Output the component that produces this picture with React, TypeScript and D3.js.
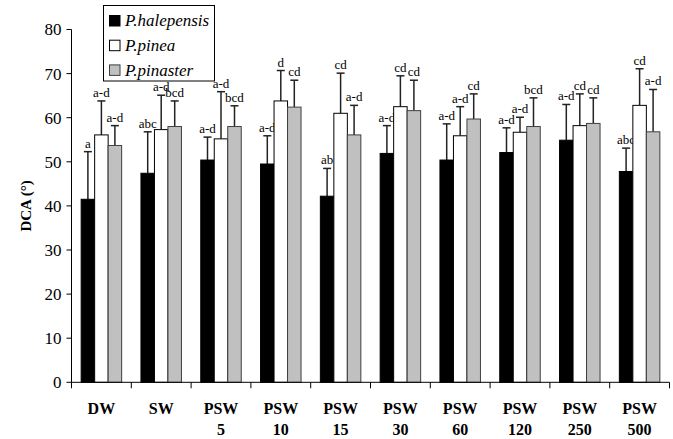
import React from "react";
import * as d3 from "d3";

const categories = ["DW", "SW", "PSW|5", "PSW|10", "PSW|15", "PSW|30", "PSW|60", "PSW|120", "PSW|250", "PSW|500"];
const seriesNames = ["P.halepensis", "P.pinea", "P.pinaster"];
const halepensis = [41.5, 47.4, 50.4, 49.5, 42.2, 51.9, 50.4, 52.1, 54.9, 47.8];
const halepensisErr = [52.3, 56.8, 55.6, 55.9, 48.5, 58.2, 58.6, 57.7, 63.0, 53.1];
const pinea = [56.1, 57.3, 55.2, 63.8, 61.0, 62.5, 55.9, 56.7, 58.2, 62.8];
const pineaErr = [63.8, 65.1, 65.9, 70.7, 70.1, 69.5, 62.5, 60.1, 65.4, 71.1];
const pinaster = [53.7, 58.0, 58.0, 62.4, 56.1, 61.6, 59.7, 58.0, 58.7, 56.8];
const pinasterErr = [58.2, 63.8, 62.7, 68.5, 62.8, 68.5, 65.4, 64.5, 64.5, 66.4];
const halepensisLbl = ["a", "abc", "a-d", "a-d", "ab", "a-d", "a-d", "a-d", "a-d", "abc"];
const pineaLbl = ["a-d", "a-d", "a-d", "d", "cd", "cd", "a-d", "a-d", "cd", "cd"];
const pinasterLbl = ["a-d", "bcd", "bcd", "cd", "a-d", "cd", "cd", "bcd", "cd", "a-d"];
const yTicks = [0, 10, 20, 30, 40, 50, 60, 70, 80];

const fills = ["#000000", "#ffffff", "#c0c0c0"];
const strokes = ["#000000", "#000000", "#404040"];
const FONT = "Liberation Serif";

export default function App() {
  const W = 673, H = 439;
  const left = 71.5, right = 669.5, top = 29.5, bottom = 382.3;
  const x0 = d3.scaleBand<string>().domain(categories).range([left, right]).padding(0);
  const x1 = d3.scaleBand<string>().domain(seriesNames).range([0, x0.bandwidth()]).paddingInner(0).paddingOuter(0.715);
  const y = d3.scaleLinear().domain([0, 80]).range([bottom, top]);

  const vals = [halepensis, pinea, pinaster];
  const errs = [halepensisErr, pineaErr, pinasterErr];
  const lbls = [halepensisLbl, pineaLbl, pinasterLbl];

  return (
    <svg width={W} height={H} style={{ position: "absolute", left: 0, top: 0, background: "#fff", fontFamily: FONT }}>
      <rect x={0} y={0} width={W} height={H} fill="#fff" />
      {/* y axis */}
      <line x1={left} x2={left} y1={top} y2={bottom} stroke="#000" strokeWidth={1} />
      {yTicks.map((t) => (
        <g key={t}>
          <line x1={left - 5} x2={left} y1={y(t)} y2={y(t)} stroke="#000" />
          <text x={left - 10} y={y(t)} dy="0.35em" textAnchor="end" fontSize={17} fontFamily={FONT}>{t}</text>
        </g>
      ))}
      <text transform={`translate(26,${(top + bottom) / 2}) rotate(-90)`} textAnchor="middle" dy="0.35em" fontSize={15} fontWeight="bold" fontFamily={FONT}>DCA (°)</text>
      {/* bars */}
      {categories.map((c, i) => (
        <g key={c}>
          {seriesNames.map((s, j) => {
            const bx = (x0(c) as number) + (x1(s) as number);
            const bw = x1.bandwidth();
            const v = vals[j][i];
            const e = errs[j][i];
            const cx = bx + bw / 2;
            return (
              <g key={s}>
                <line x1={cx} x2={cx} y1={y(v)} y2={y(e)} stroke="#222" strokeWidth={1.5} />
                <line x1={cx - 4} x2={cx + 4} y1={y(e)} y2={y(e)} stroke="#222" strokeWidth={1.5} />
                <rect x={bx} y={y(v)} width={bw} height={bottom - y(v)} fill={fills[j]} stroke={strokes[j]} strokeWidth={1} />
                <text x={cx} y={y(e) - 4} textAnchor="middle" fontSize={13} fontFamily={FONT}>{lbls[j][i]}</text>
              </g>
            );
          })}
        </g>
      ))}
      {/* x axis */}
      <line x1={left} x2={right} y1={bottom} y2={bottom} stroke="#000" />
      {categories.concat([""]).map((c, i) => {
        const xx = left + i * x0.step();
        return <line key={i} x1={xx} x2={xx} y1={bottom} y2={bottom + 6} stroke="#000" />;
      })}
      {categories.map((c) => {
        const parts = c.split("|");
        const cx = (x0(c) as number) + x0.bandwidth() / 2;
        return (
          <text key={c} x={cx} textAnchor="middle" fontSize={16} fontWeight="bold" fontFamily={FONT}>
            {parts.map((p, k) => (
              <tspan key={k} x={cx} y={414 + k * 21}>{p}</tspan>
            ))}
          </text>
        );
      })}
      {/* legend */}
      <rect x={103.5} y={5.5} width={111} height={75.5} fill="#fff" stroke="#000" strokeWidth={1} />
      {seriesNames.map((s, j) => {
        const cy = 20.5 + j * 24.7;
        return (
          <g key={s}>
            <rect x={109.5} y={cy - 5} width={10.5} height={10.5} fill={fills[j]} stroke={strokes[j]} />
            <text x={125} y={cy} dy="0.35em" fontSize={17} fontStyle="italic" fontFamily={FONT}>{s}</text>
          </g>
        );
      })}
    </svg>
  );
}
